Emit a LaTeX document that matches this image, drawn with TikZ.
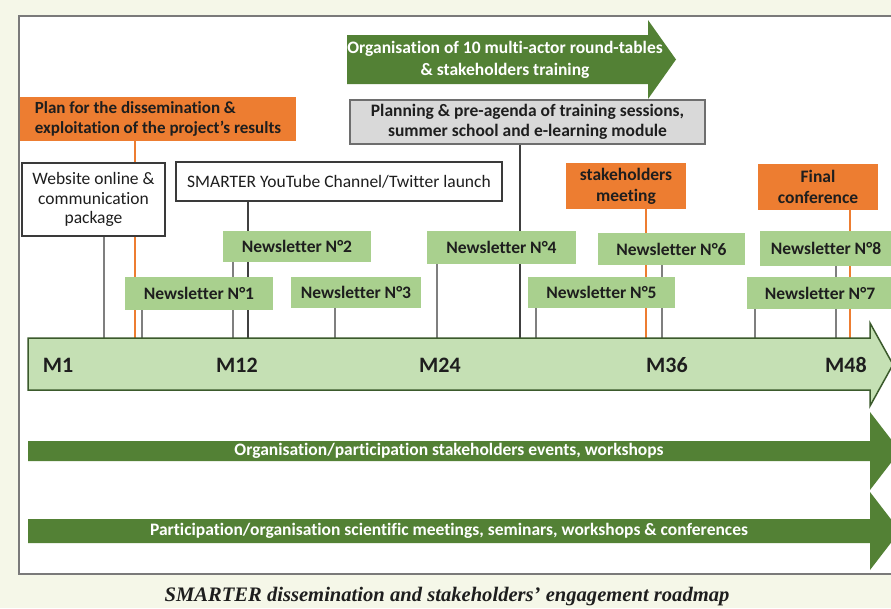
\documentclass[tikz,border=0pt]{standalone}
\usepackage{fontspec}
\setmainfont{Carlito}[Ligatures=NoCommon]
\newfontfamily\capfont{Liberation Serif}
\usetikzlibrary{calc}
\pgfdeclarelayer{back}
\pgfdeclarelayer{links}
\pgfsetlayers{back,links,main}
\definecolor{canvas}{HTML}{F5F7E8}
\definecolor{framec}{HTML}{7A7A7A}
\definecolor{dgreen}{HTML}{538135}
\definecolor{nlgreen}{HTML}{A9D08E}
\definecolor{tlfill}{HTML}{C5E0B4}
\definecolor{tlline}{HTML}{3B5A2C}
\definecolor{orng}{HTML}{ED7D31}
\definecolor{grayfill}{HTML}{D9D9D9}
\definecolor{grayline}{HTML}{6E6E6E}
\definecolor{boxline}{HTML}{3A3A3A}
\definecolor{linkgray}{HTML}{7F7F7F}
\definecolor{linkdark}{HTML}{404040}
\definecolor{txt}{HTML}{1E1E1E}
\begin{document}
\begin{tikzpicture}[x=1pt,y=-1pt,
  wbox/.style={draw=boxline, line width=1.3pt, fill=white, inner sep=0pt, align=center, text=txt, font=\fontsize{17.5}{19.5}\selectfont},
  nlbox/.style={fill=nlgreen, inner sep=0pt, text=txt, font=\bfseries\fontsize{17.5}{20}\selectfont},
  obox/.style={fill=orng, inner sep=0pt, align=center, text=txt, font=\bfseries\fontsize{17.5}{21}\selectfont},
  gbox/.style={fill=grayfill, draw=grayline, line width=1.3pt, inner sep=0pt, align=center, text=txt, font=\bfseries\fontsize{17.5}{20}\selectfont},
  wtext/.style={text=white, font=\bfseries\fontsize{17.5}{20}\selectfont, inner sep=0pt},
  mlabel/.style={text=txt, font=\bfseries\fontsize{22}{24}\selectfont, inner sep=0pt},
  glink/.style={draw=linkgray, line width=1.6pt},
  dlink/.style={draw=linkdark, line width=2pt},
  olink/.style={draw=orng, line width=1.8pt},
  greenarrow/.style={fill=dgreen},
]
\useasboundingbox (0,0) rectangle (891,608);
\begin{pgfonlayer}{back}
  \fill[canvas] (0,0) rectangle (891,608);
  \filldraw[fill=white, draw=framec, line width=1.5pt] (19,16) rectangle (900,574);
\end{pgfonlayer}

% top green arrow
\fill[greenarrow] (347,35) -- (648,35) -- (648,20) -- (676,59.5) -- (648,99) -- (648,84) -- (347,84) -- cycle;
\node[wtext, font=\bfseries\fontsize{17.5}{22}\selectfont, align=center] (orgtxt) at (505,60) {Organisation of 10 multi-actor round-tables\\\& stakeholders training};

% timeline arrow
\filldraw[fill=tlfill, draw=tlline, line width=1.5pt] (28,338) -- (870,338) -- (870,323) -- (893,364.5) -- (870,406) -- (870,390) -- (28,390) -- cycle;
\node[minimum width=842pt, minimum height=52pt, inner sep=0pt] (tl) at (449,364) {};
\node[mlabel] (m1) at (58,365) {M1};
\node[mlabel] (m12) at (237,365) {M12};
\node[mlabel] (m24) at (440,365) {M24};
\node[mlabel] (m36) at (667,365) {M36};
\node[mlabel] (m48) at (846,365) {M48};

% bottom arrows
\fill[greenarrow] (28,441) -- (870,441) -- (870,412) -- (900,451) -- (870,490) -- (870,461) -- (28,461) -- cycle;
\node[wtext] (ev) at (449,451) {Organisation/participation stakeholders events, workshops};
\fill[greenarrow] (28,519) -- (870,519) -- (870,492) -- (900,531) -- (870,570) -- (870,543) -- (28,543) -- cycle;
\node[wtext] (sci) at (449,531) {Participation/organisation scientific meetings, seminars, workshops \& conferences};

% boxes
\node[gbox, minimum width=355pt, minimum height=44pt] (plng) at (527.5,122) {Planning \& pre-agenda of training sessions,\\summer school and e-learning module};
\node[obox, minimum width=276pt, minimum height=44pt, align=left, font=\bfseries\fontsize{17}{20}\selectfont] (plan) at (158,119) {Plan for the dissemination \&\\exploitation of the project’s results};
\node[wbox, minimum width=143pt, minimum height=73pt] (web) at (93.5,199.5) {Website online \&\\communication\\package};
\node[wbox, minimum width=326pt, minimum height=39pt] (yt) at (339,181.5) {SMARTER YouTube Channel/Twitter launch};
\node[obox, minimum width=120pt, minimum height=46pt] (sm) at (626,186) {stakeholders\\meeting};
\node[obox, minimum width=120pt, minimum height=46pt] (fc) at (818,187) {Final\\conference};

% newsletters
\node[nlbox, minimum width=148pt, minimum height=31pt] (n2) at (297,246.5) {Newsletter N°2};
\node[nlbox, minimum width=148pt, minimum height=33pt] (n1) at (199,293.5) {Newsletter N°1};
\node[nlbox, minimum width=130pt, minimum height=31pt] (n3) at (356,292.5) {Newsletter N°3};
\node[nlbox, minimum width=149pt, minimum height=33pt] (n4) at (501.5,247.5) {Newsletter N°4};
\node[nlbox, minimum width=147pt, minimum height=31pt] (n5) at (601.5,292.5) {Newsletter N°5};
\node[nlbox, minimum width=147pt, minimum height=32pt] (n6) at (671.5,249) {Newsletter N°6};
\node[nlbox, minimum width=132pt, minimum height=35pt] (n8) at (826,248.5) {Newsletter N°8};
\node[nlbox, minimum width=146pt, minimum height=32pt] (n7) at (820,293) {Newsletter N°7};

% connector x positions
\coordinate (xa) at (104,0);
\coordinate (xb) at (135,0);
\coordinate (xc) at (142,0);
\coordinate (xd) at (233,0);
\coordinate (xe) at (248,0);
\coordinate (xf) at (335,0);
\coordinate (xg) at (437,0);
\coordinate (xh) at (520,0);
\coordinate (xi) at (536,0);
\coordinate (xj) at (646,0);
\coordinate (xk) at (662,0);
\coordinate (xl) at (755,0);
\coordinate (xm) at (836,0);
\coordinate (xn) at (850,0);

\begin{pgfonlayer}{links}
  \draw[glink] (web.south -| xa) -- (tl.north -| xa);
  \draw[olink] (plan.south -| xb) -- (tl.north -| xb);
  \draw[glink] (n1.south -| xc) -- (tl.north -| xc);
  \draw[glink] (n2.south -| xd) -- (tl.north -| xd);
  \draw[dlink] (yt.south -| xe) -- (tl.north -| xe);
  \draw[glink] (n3.south -| xf) -- (tl.north -| xf);
  \draw[glink] (n4.south -| xg) -- (tl.north -| xg);
  \draw[dlink] (plng.south -| xh) -- (tl.north -| xh);
  \draw[glink] (n5.south -| xi) -- (tl.north -| xi);
  \draw[olink] (sm.south -| xj) -- (tl.north -| xj);
  \draw[glink] (n6.south -| xk) -- (tl.north -| xk);
  \draw[glink] (n7.south -| xl) -- (tl.north -| xl);
  \draw[glink] (n8.south -| xm) -- (tl.north -| xm);
  \draw[olink] (fc.south -| xn) -- (tl.north -| xn);
\end{pgfonlayer}

% caption
\node[inner sep=0pt, text=txt, font=\capfont\bfseries\itshape\fontsize{20.6}{24}\selectfont] (cap) at (447,597) {SMARTER dissemination and stakeholders’ engagement roadmap};
\end{tikzpicture}
\end{document}
